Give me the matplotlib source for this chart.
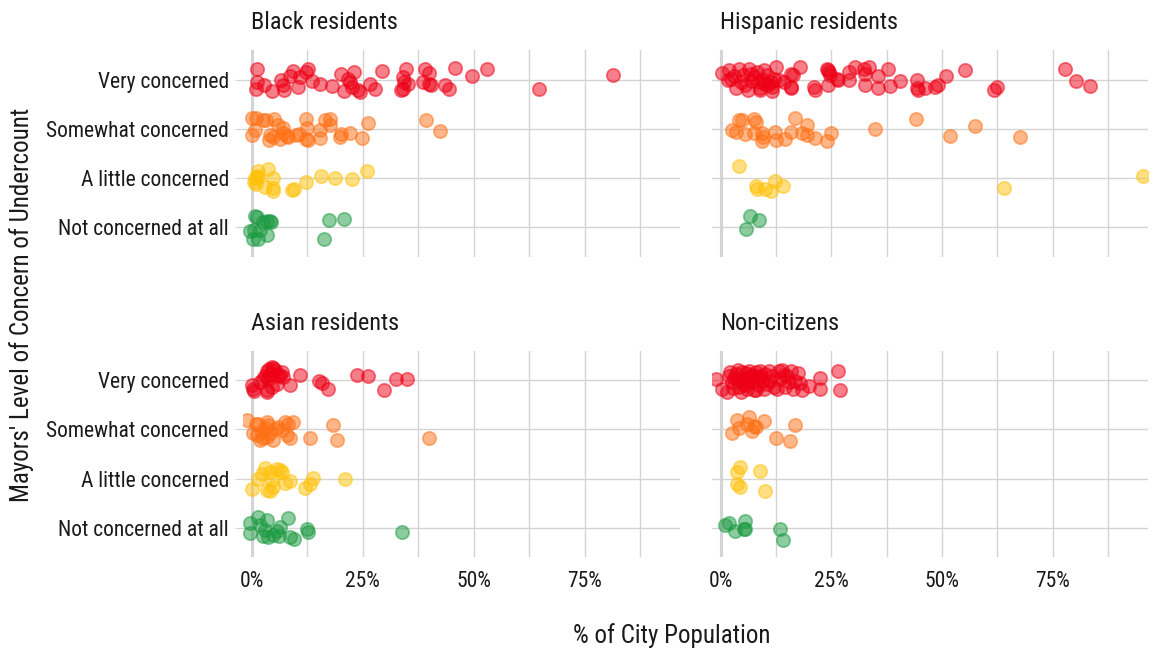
import matplotlib
matplotlib.use("Agg")
import matplotlib.pyplot as plt
from matplotlib import font_manager
from matplotlib.colors import to_rgba

# the reference uses a narrow sans; take one if it is there, else Roboto a bit smaller
narrow = [f for f in font_manager.fontManager.ttflist
          if ('Narrow' in f.name or 'Condensed' in f.name or f.stretch in ('condensed', 'semi-condensed'))
          and 'Bold' not in f.name and f.weight in (400, 'normal', 'regular')]
narrow.sort(key=lambda f: (0 if 'Liberation' in f.name else 1 if 'Roboto' in f.name else 2))
if narrow:
    FONT = narrow[0].name
    STRETCH = narrow[0].stretch
    FS = 15.5
else:
    FONT = 'Roboto'
    STRETCH = 'normal'
    FS = 13.5
plt.rcParams['font.family'] = [FONT, 'DejaVu Sans']
plt.rcParams['font.stretch'] = STRETCH

LEVELS = ["Not concerned at all", "A little concerned", "Somewhat concerned", "Very concerned"]
GROUPS = ["Black residents", "Hispanic residents", "Asian residents", "Non-citizens"]
COLORS = ["#1B9A40", "#FFC107", "#FF7014", "#EE0016"]
X_TICKS = [0, 25, 50, 75]
X_TICK_LABELS = ["0%", "25%", "50%", "75%"]

# (percent of city population, vertical jitter)
black_very = [(1.3, 0.22), (1.3, -0.04), (1.0, -0.19), (2.8, -0.11), (4.5, -0.24), (6.7, 0.0),
              (6.96, -0.12), (7.3, -0.22), (9.4, 0.18), (8.6, 0.07), (10.5, -0.15), (10.9, 0.05),
              (12.7, 0.22), (12.3, 0.15), (13.5, -0.02), (15.5, -0.09), (18.0, -0.14), (20.2, 0.11),
              (20.7, -0.24), (21.7, 0.01), (22.1, -0.05), (23.0, 0.15), (22.5, -0.15), (24.0, -0.22),
              (24.5, -0.26), (26.6, -0.09), (27.7, -0.2), (29.3, 0.17), (34.8, 0.22), (34.1, 0.05),
              (34.4, -0.05), (35.2, -0.09), (33.7, -0.22), (34.1, -0.19), (39.1, 0.22), (40.0, 0.14),
              (38.5, -0.04), (40.0, -0.09), (40.4, -0.11), (43.6, -0.12), (44.5, -0.2), (45.7, 0.23),
              (49.6, 0.08), (53.1, 0.22), (64.8, -0.2), (81.3, 0.09)]
black_somewhat = [(0.0, 0.22), (1.0, 0.22), (0.75, -0.03), (0.0, -0.13), (2.6, 0.18), (3.2, 0.18),
                  (5.0, 0.21), (4.1, -0.12), (3.96, -0.23), (4.7, -0.16), (6.0, 0.07), (6.4, -0.2),
                  (7.0, 0.01), (7.1, -0.09), (7.9, -0.14), (8.2, -0.16), (10.1, -0.13), (10.7, -0.11),
                  (12.2, 0.21), (12.4, 0.01), (12.7, -0.22), (12.35, -0.2), (15.5, -0.03), (15.3, -0.18),
                  (16.5, 0.18), (17.6, 0.21), (17.7, 0.07), (19.8, -0.16), (20.2, -0.11), (22.2, -0.09),
                  (24.8, -0.18), (26.2, 0.11), (39.3, 0.18), (42.4, -0.05)]
black_little = [(1.5, 0.14), (0.75, 0.0), (1.1, 0.05), (1.5, 0.02), (0.5, -0.08), (0.97, -0.12),
                (3.7, 0.18), (4.7, 0.0), (3.0, -0.18), (4.9, -0.2), (4.7, -0.27), (9.0, -0.25),
                (9.5, -0.23), (12.2, -0.07), (15.7, 0.04), (18.7, 0.0), (22.5, -0.01), (26.0, 0.14)]
black_not = [(0.75, 0.24), (1.1, 0.21), (2.6, 0.11), (3.5, 0.14), (4.1, 0.14), (4.3, 0.11),
             (-0.4, -0.08), (0.5, -0.06), (0.4, -0.23), (1.5, -0.23), (3.4, -0.16), (1.9, -0.06),
             (17.4, 0.16), (20.9, 0.18), (16.3, -0.24)]

hisp_very = [(0.4, 0.14), (2.0, 0.19), (4.1, 0.22), (2.25, 0.02), (1.7, -0.01), (3.4, -0.18),
             (4.5, -0.05), (6.4, 0.22), (6.8, 0.12), (5.6, -0.12), (6.2, -0.22), (7.5, 0.05),
             (8.3, 0.16), (8.6, -0.05), (8.8, -0.18), (9.0, -0.22), (9.8, 0.19), (10.5, 0.09),
             (10.1, -0.08), (11.3, -0.05), (11.6, -0.15), (11.5, -0.24), (12.4, 0.26), (12.0, 0.02),
             (13.1, -0.01), (14.3, -0.05), (15.8, 0.12), (16.3, 0.09), (15.8, -0.15), (16.0, -0.18),
             (18.0, 0.26), (21.0, -0.15), (21.2, -0.22), (24.0, 0.22), (24.4, 0.16), (24.2, -0.12),
             (26.3, 0.02), (26.6, -0.01), (28.9, 0.16), (29.0, -0.01), (30.4, 0.26), (32.3, 0.22),
             (32.5, 0.12), (33.4, 0.26), (32.6, -0.1), (35.6, 0.07), (35.5, -0.17), (37.9, 0.22),
             (38.3, -0.13), (40.5, -0.03), (44.3, -0.01), (44.3, -0.18), (44.6, -0.22), (46.1, -0.17),
             (48.4, -0.15), (49.1, -0.11), (50.8, 0.07), (55.1, 0.2), (61.8, -0.22), (62.5, -0.15),
             (77.7, 0.22), (80.2, -0.03), (83.5, -0.14), (5.0, 0.1), (7.0, -0.02), (9.5, 0.0),
             (3.0, 0.08), (10.8, -0.12), (24.3, 0.19), (24.6, 0.1)]
hisp_somewhat = [(4.1, 0.18), (4.9, 0.18), (7.5, 0.19), (7.9, 0.14), (2.6, -0.03), (3.4, -0.06),
                 (5.6, -0.11), (7.5, -0.09), (9.4, -0.08), (9.6, -0.16), (9.4, -0.24), (12.2, -0.06),
                 (12.4, -0.23), (14.6, -0.2), (15.8, -0.06), (16.7, 0.22), (18.4, -0.08), (19.4, -0.13),
                 (19.5, 0.07), (21.4, -0.18), (24.0, -0.24), (24.9, -0.08), (34.9, -0.01), (44.1, 0.2),
                 (51.7, -0.15), (57.4, 0.05), (67.6, -0.16)]
hisp_little = [(4.1, 0.24), (7.9, -0.15), (8.1, -0.22), (10.1, -0.22), (11.3, -0.26), (12.2, -0.06),
               (14.1, -0.16), (64.0, -0.2), (95.3, 0.05)]
hisp_not = [(6.6, 0.23), (8.6, 0.16), (5.8, -0.04)]

asian_very = [(0.0, -0.09), (0.4, -0.17), (0.5, -0.22), (1.9, -0.03), (2.6, 0.03), (3.0, 0.1),
              (3.4, 0.2), (3.97, 0.24), (4.5, 0.27), (4.9, 0.25), (5.25, 0.22), (4.1, 0.14),
              (3.75, 0.03), (3.4, -0.2), (3.5, -0.24), (4.5, -0.14), (5.6, -0.07), (6.0, 0.09),
              (6.4, 0.11), (7.1, 0.07), (6.8, 0.17), (8.6, -0.09), (10.9, 0.11), (15.2, -0.02),
              (15.8, -0.05), (17.3, -0.17), (23.8, 0.11), (26.3, 0.09), (29.8, -0.2), (32.5, 0.02),
              (34.9, 0.02)]
asian_somewhat = [(-1.0, 0.19), (1.0, 0.12), (1.5, 0.12), (3.4, 0.16), (3.75, 0.09), (0.4, -0.08),
                  (1.1, -0.12), (2.25, -0.05), (2.6, -0.18), (3.0, 0.02), (1.9, -0.22), (3.4, -0.15),
                  (4.1, -0.08), (4.9, -0.22), (5.25, 0.01), (6.0, 0.05), (6.75, -0.01), (7.5, 0.16),
                  (8.25, 0.12), (8.6, -0.18), (9.4, 0.16), (7.9, -0.11), (13.1, -0.17), (18.4, 0.1),
                  (19.3, -0.22), (39.9, -0.18)]
asian_little = [(3.0, 0.22), (1.5, 0.0), (0.0, -0.22), (2.25, 0.1), (4.1, 0.14), (5.6, 0.2),
                (6.4, 0.17), (4.5, -0.03), (3.4, -0.24), (4.1, -0.26), (4.9, -0.17), (6.75, 0.14),
                (7.5, -0.1), (8.6, -0.05), (12.0, -0.19), (13.1, -0.12), (13.9, 0.01), (21.0, 0.0)]
asian_not = [(-0.4, 0.09), (-0.4, -0.12), (1.5, 0.22), (1.9, 0.05), (3.4, 0.15), (3.0, -0.05),
             (2.6, -0.18), (3.75, -0.2), (4.9, -0.15), (5.6, -0.08), (6.4, 0.02), (6.2, -0.18),
             (8.25, 0.2), (8.6, -0.2), (9.5, -0.23), (12.4, -0.03), (12.75, -0.1), (33.9, -0.1)]

noncit_very = [(-1.0, 0.02), (0.4, -0.17), (1.5, -0.24), (1.9, 0.1), (2.6, -0.03), (3.4, 0.14),
               (3.75, 0.0), (4.1, -0.14), (4.5, -0.24), (4.9, 0.17), (5.25, 0.03), (5.6, -0.1),
               (6.0, -0.17), (6.4, 0.2), (6.75, 0.09), (7.1, -0.03), (7.5, -0.2), (7.9, 0.17),
               (8.25, 0.07), (8.6, -0.1), (9.0, 0.2), (9.4, 0.0), (9.75, -0.17), (10.1, 0.14),
               (10.5, -0.07), (10.9, 0.2), (11.6, 0.1), (12.0, -0.14), (12.75, -0.17), (13.1, 0.2),
               (13.5, 0.03), (13.9, 0.22), (14.6, -0.14), (15.0, 0.1), (15.8, 0.2), (15.4, -0.03),
               (16.3, -0.17), (16.9, -0.02), (18.0, -0.05), (18.4, -0.2), (22.5, 0.05), (22.5, -0.18),
               (26.6, 0.2), (27.0, -0.2), (2.2, 0.18), (3.0, 0.05), (4.0, 0.22), (5.0, -0.05),
               (6.2, 0.0), (7.0, 0.12), (8.0, -0.2), (2.8, -0.15), (5.8, 0.15), (8.8, 0.1),
               (11.2, -0.02), (14.2, 0.12), (17.5, 0.15), (20.0, -0.12)]
noncit_somewhat = [(3.75, 0.19), (6.4, 0.26), (6.0, 0.12), (4.1, 0.02), (2.6, -0.08), (7.5, 0.07),
                   (7.9, 0.05), (7.1, -0.03), (9.8, 0.17), (16.7, 0.1), (12.4, -0.17), (15.6, -0.24)]
noncit_little = [(4.35, 0.24), (3.75, 0.14), (3.75, -0.12), (4.35, -0.18), (9.0, 0.15), (10.0, -0.25)]
noncit_not = [(0.9, 0.05), (1.9, 0.1), (3.15, -0.07), (5.4, 0.14), (5.25, -0.03), (5.6, -0.03),
              (13.5, -0.03), (14.0, -0.25)]

panels = [
    [black_not, black_little, black_somewhat, black_very],
    [hisp_not, hisp_little, hisp_somewhat, hisp_very],
    [asian_not, asian_little, asian_somewhat, asian_very],
    [noncit_not, noncit_little, noncit_somewhat, noncit_very],
]

W, H = 1157, 653
fig = plt.figure(figsize=(W / 100, H / 100), dpi=100)

# panel boxes in pixels: left, top, right, bottom
boxes = [(243, 50, 680, 257), (712, 50, 1148, 257),
         (243, 351, 680, 557), (712, 351, 1148, 557)]

GRID = "#d4d4d4"
INK = "#1a1a1a"
for i, (group, data, box) in enumerate(zip(GROUPS, panels, boxes)):
    l, t, r, b = box
    ax = fig.add_axes([l / W, 1 - b / H, (r - l) / W, (b - t) / H])
    ax.set_xlim(-1.95, 96.5)
    ax.set_ylim(0.4, 4.6)
    for s in ax.spines.values():
        s.set_visible(False)
    for v in [12.5 * k for k in range(8)]:
        ax.axvline(v, color=GRID, lw=2.2 if v == 0 else 1.0, zorder=0)
    for k in range(1, 5):
        ax.axhline(k, color=GRID, lw=1.0, zorder=0)

    for k, (pts, col) in enumerate(zip(data, COLORS)):
        xs = [p[0] for p in pts]
        ys = [k + 1 + p[1] for p in pts]
        ax.scatter(xs, ys, s=92, facecolor=to_rgba(col, 0.5), edgecolor=to_rgba(col, 0.5),
                   linewidth=1.3, zorder=3)

    ax.set_yticks([1, 2, 3, 4])
    ax.set_xticks(X_TICKS)
    if i % 2 == 0:
        ax.set_yticklabels(LEVELS, fontsize=FS)
        ax.tick_params(axis='y', length=6, color=GRID, pad=4, labelcolor=INK)
    else:
        ax.set_yticklabels([])
        ax.tick_params(axis='y', length=0)
    if i >= 2:
        ax.set_xticklabels(X_TICK_LABELS, fontsize=FS)
        ax.tick_params(axis='x', length=0, pad=10, labelcolor=INK)
    else:
        ax.set_xticklabels([])
        ax.tick_params(axis='x', length=0)

    ax.text(0.018, 1 + 21 / (b - t), group, transform=ax.transAxes, fontsize=FS + 2,
            ha='left', va='baseline', color=INK)

fig.text(672 / W, 1 - 636 / H, "% of City Population", ha='center', va='center',
         fontsize=FS + 2.5, color=INK)
fig.text(22 / W, 1 - 305 / H, "Mayors' Level of Concern of Undercount", ha='center',
         va='center', rotation=90, fontsize=FS + 2.5, color=INK)

fig.savefig("out.png", dpi=100)
